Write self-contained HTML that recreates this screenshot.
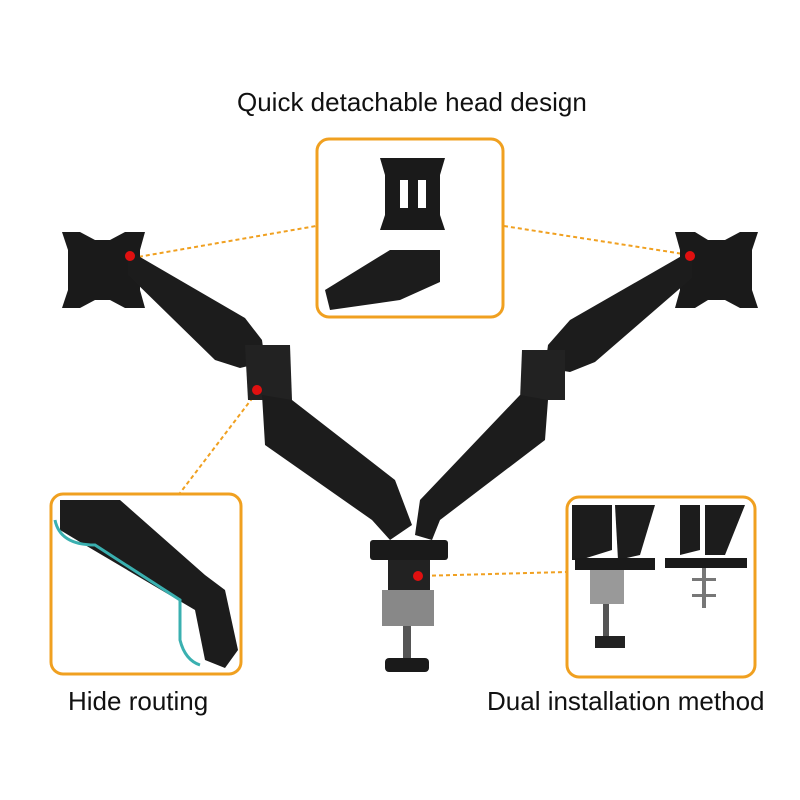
<!DOCTYPE html>
<html><head><meta charset="utf-8"><style>
html,body{margin:0;padding:0;background:#fff;}
.t{position:absolute;font-family:"Liberation Sans",sans-serif;font-size:26px;color:#111;white-space:nowrap;}
</style></head><body>
<div style="position:relative;width:800px;height:800px;overflow:hidden;">
<svg width="800" height="800" viewBox="0 0 800 800" style="position:absolute;left:0;top:0">
<g stroke="#f0a020" stroke-width="2" stroke-dasharray="4,3" fill="none">
<line x1="132" y1="258" x2="316" y2="226"/>
<line x1="504" y1="226" x2="690" y2="255"/>
<line x1="257" y1="392" x2="180" y2="493"/>
<line x1="418" y1="576" x2="566" y2="572"/>
</g>
<path d="M62 232 L80 232 L95 240 L110 240 L125 232 L145 232 L140 250 L140 290 L145 308 L125 308 L110 300 L95 300 L80 308 L62 308 L68 290 L68 250 Z" fill="#1a1a1a"/>
<path d="M128 250 L245 318 L262 340 L265 362 L240 368 L215 360 L128 275 Z" fill="#1c1c1c"/>
<path d="M245 345 L290 345 L292 400 L248 400 Z" fill="#222"/>
<path d="M262 395 L292 400 L395 480 L412 525 L390 540 L372 520 L265 445 Z" fill="#1c1c1c"/>
<path d="M675 232 L695 232 L708 240 L725 240 L740 232 L758 232 L752 250 L752 290 L758 308 L740 308 L725 300 L708 300 L695 308 L675 308 L680 290 L680 250 Z" fill="#1a1a1a"/>
<path d="M692 250 L570 320 L548 345 L545 368 L570 372 L595 362 L692 278 Z" fill="#1c1c1c"/>
<path d="M522 350 L565 350 L565 400 L520 400 Z" fill="#222"/>
<path d="M520 395 L548 400 L545 440 L440 520 L432 540 L415 535 L420 500 Z" fill="#1c1c1c"/>
<rect x="370" y="540" width="78" height="20" rx="3" fill="#1a1a1a"/>
<rect x="388" y="560" width="42" height="32" fill="#222"/>
<rect x="382" y="590" width="52" height="36" fill="#888"/>
<rect x="403" y="626" width="8" height="36" fill="#555"/>
<rect x="385" y="658" width="44" height="14" rx="4" fill="#1a1a1a"/>
<g fill="#e01010"><circle cx="130" cy="256" r="5"/><circle cx="690" cy="256" r="5"/><circle cx="257" cy="390" r="5"/><circle cx="418" cy="576" r="5"/></g>
<g fill="#fff" stroke="#f0a020" stroke-width="3">
<rect x="317" y="139" width="186" height="178" rx="12"/>
<rect x="51" y="494" width="190" height="180" rx="12"/>
<rect x="567" y="497" width="188" height="180" rx="12"/>
</g>
<path d="M380 158 L445 158 L440 175 L440 215 L445 230 L380 230 L385 215 L385 175 Z" fill="#1a1a1a"/>
<rect x="400" y="180" width="8" height="28" fill="#fff"/><rect x="418" y="180" width="8" height="28" fill="#fff"/>
<path d="M325 290 L390 250 L440 250 L440 282 L400 300 L330 310 Z" fill="#1c1c1c"/>
<path d="M60 500 L120 500 L205 575 L225 590 L238 650 L225 668 L205 660 L195 610 L85 545 L60 530 Z" fill="#1c1c1c"/>
<path d="M55 520 Q60 545 95 545 L180 600 L180 640 Q185 660 200 665" stroke="#3ab0b0" stroke-width="3" fill="none"/>
<path d="M572 505 L612 505 L612 550 L580 560 L572 560 Z" fill="#1c1c1c"/>
<path d="M615 505 L655 505 L640 555 L618 560 Z" fill="#1c1c1c"/>
<path d="M680 505 L700 505 L700 550 L680 555 Z" fill="#1c1c1c"/>
<path d="M705 505 L745 505 L725 555 L705 555 Z" fill="#1c1c1c"/>
<rect x="575" y="558" width="80" height="12" fill="#1a1a1a"/>
<rect x="665" y="558" width="82" height="10" fill="#1a1a1a"/>
<rect x="590" y="570" width="34" height="34" fill="#999"/>
<rect x="603" y="604" width="6" height="34" fill="#555"/>
<rect x="595" y="636" width="30" height="12" fill="#222"/>
<rect x="702" y="568" width="4" height="40" fill="#777"/>
<rect x="692" y="578" width="24" height="3" fill="#777"/>
<rect x="692" y="594" width="24" height="3" fill="#777"/>
</svg>
<div class="t" style="left:237px;top:87px;">Quick detachable head design</div>
<div class="t" style="left:68px;top:686px;">Hide routing</div>
<div class="t" style="left:487px;top:686px;">Dual installation method</div>
</div>
</body></html>
